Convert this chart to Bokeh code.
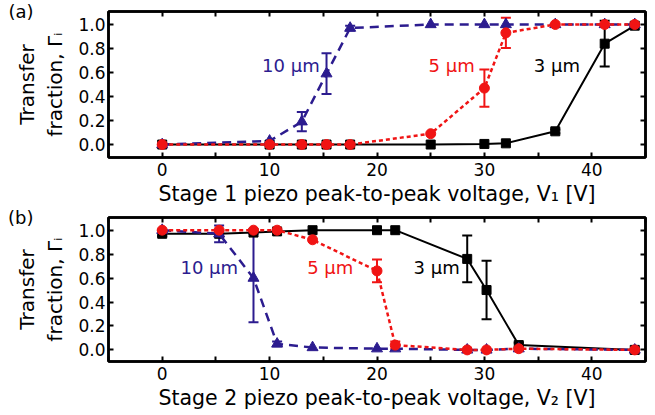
from bokeh.plotting import figure
from bokeh.models import (ColumnDataSource, Whisker, TeeHead, Label, FixedTicker,
                          LinearAxis, NumeralTickFormatter, CustomJSTickFormatter)
from bokeh.layouts import column
from bokeh.embed import file_html
from bokeh.resources import INLINE

# ---------------- data ----------------
v1 = [0, 10, 13, 15.3, 17.5, 25, 30, 32, 36.6, 41.2, 44]
a_10um = [0.0, 0.03, 0.19, 0.59, 0.97, 1.0, 1.0, 1.0, 1.0, 1.0, 1.0]
a_10um_err = [0, 0, 0.08, 0.17, 0.02, 0, 0, 0, 0, 0, 0]
a_5um = [0.0, 0.0, 0.0, 0.0, 0.0, 0.09, 0.47, 0.93, 1.0, 1.0, 1.0]
a_5um_err = [0, 0, 0, 0, 0, 0, 0.155, 0.125, 0, 0, 0]
a_3um = [0.0, 0.0, 0.0, 0.0, 0.0, 0.0, 0.005, 0.01, 0.11, 0.84, 0.99]
a_3um_err = [0, 0, 0, 0, 0, 0, 0, 0, 0.015, 0.19, 0.01]

v2 = [0, 5.3, 8.5, 10.7, 14, 20, 21.7, 28.4, 30.2, 33.2, 44]
b_10um = [1.0, 0.97, 0.6, 0.05, 0.02, 0.01, 0.01, 0.0, 0.0, 0.01, 0.0]
b_10um_err = [0, 0.07, 0.37, 0.02, 0, 0, 0, 0, 0, 0, 0]
b_5um = [1.0, 1.0, 1.0, 1.0, 0.92, 0.66, 0.04, 0.0, 0.0, 0.01, 0.0]
b_5um_err = [0, 0, 0, 0, 0, 0.095, 0.03, 0, 0, 0, 0]
b_3um = [0.97, 0.97, 0.98, 0.99, 1.0, 1.0, 1.0, 0.76, 0.5, 0.04, 0.0]
b_3um_err = [0.02, 0, 0, 0, 0, 0, 0, 0.195, 0.245, 0.02, 0]

x_ticks = [0, 10, 20, 30, 40]
x_minor = [-5, 5, 15, 25, 35, 45]
y_ticks = [0.0, 0.2, 0.4, 0.6, 0.8, 1.0]

series_names = ["10 μm", "5 μm", "3 μm"]
y_title = "Transfer\nfraction, Γᵢ"

NAVY = "#2C1C8F"
RED = "#F01414"
BLACK = "#000000"
FONT = "DejaVu Sans"

STYLE = {
    "10 μm": dict(color=NAVY, dash="9 6", marker="triangle", size=11, lw=2.5),
    "5 μm": dict(color=RED, dash="4 3", marker="circle", size=10, lw=2.5),
    "3 μm": dict(color=BLACK, dash="solid", marker="square", size=9, lw=2.0),
}


def style_axis(ax, labels=True):
    ax.axis_line_width = 2.5
    ax.axis_line_color = "black"
    ax.major_tick_in = 5
    ax.major_tick_out = 0
    ax.minor_tick_in = 5
    ax.minor_tick_out = 0
    ax.major_tick_line_width = 2
    ax.minor_tick_line_width = 2
    ax.major_tick_line_color = "black"
    ax.minor_tick_line_color = "black"
    if labels:
        ax.major_label_text_font = FONT
        ax.major_label_text_font_size = "17px"
        ax.major_label_text_color = "black"
    else:
        ax.formatter = CustomJSTickFormatter(code="return ''")
        ax.major_label_text_font_size = "6px"
        ax.major_label_standoff = 0


def make_panel(xs, data, yr, height, border_top, border_bottom, letter, x_title,
               text_pos):
    p = figure(width=655, height=height, x_range=(-5, 45), y_range=yr,
               output_backend="svg", toolbar_location=None, title=None,
               min_border_left=108, min_border_right=10,
               min_border_top=border_top, min_border_bottom=border_bottom)
    p.xgrid.visible = False
    p.ygrid.visible = False
    p.outline_line_color = "black"
    p.outline_line_width = 2.5
    p.background_fill_color = "white"
    p.border_fill_color = "white"

    xb = p.xaxis[0]
    yl = p.yaxis[0]
    xb.ticker = FixedTicker(ticks=x_ticks, minor_ticks=x_minor)
    yl.ticker = FixedTicker(ticks=y_ticks, minor_ticks=[])
    yl.formatter = NumeralTickFormatter(format="0.0")
    style_axis(xb)
    style_axis(yl)
    xb.major_label_standoff = 5
    yl.major_label_standoff = 3

    # axis titles
    xb.axis_label = x_title
    xb.axis_label_text_font = FONT
    xb.axis_label_text_font_size = "20.5px"
    xb.axis_label_text_font_style = "normal"
    xb.axis_label_text_color = "black"
    xb.axis_label_standoff = 3
    yl.axis_label = y_title
    yl.axis_label_text_font = FONT
    yl.axis_label_text_font_size = "20px"
    yl.axis_label_text_font_style = "normal"
    yl.axis_label_text_color = "black"
    yl.axis_label_standoff = 8

    # ticks on the right and top edges of the frame
    ax_r = LinearAxis(ticker=FixedTicker(ticks=y_ticks, minor_ticks=[]))
    style_axis(ax_r, labels=False)
    p.add_layout(ax_r, "right")
    ax_t = LinearAxis(ticker=FixedTicker(ticks=x_ticks, minor_ticks=x_minor))
    style_axis(ax_t, labels=False)
    p.add_layout(ax_t, "above")

    # outer left "axis" that only carries the panel letter
    ax_l = LinearAxis(ticker=FixedTicker(ticks=[], minor_ticks=[]))
    ax_l.axis_line_color = None
    ax_l.major_tick_line_color = None
    ax_l.minor_tick_line_color = None
    ax_l.formatter = CustomJSTickFormatter(code="return ''")
    ax_l.major_label_text_font_size = "1px"
    ax_l.major_label_standoff = 0
    ax_l.axis_label = letter
    ax_l.axis_label_orientation = "horizontal"
    ax_l.axis_label_text_font = FONT
    ax_l.axis_label_text_font_size = "18px"
    ax_l.axis_label_text_font_style = "normal"
    ax_l.axis_label_text_color = "black"
    ax_l.axis_label_standoff = -22
    try:
        ax_l.axis_label_align = "end"
    except Exception:
        pass
    p.add_layout(ax_l, "left")

    for name in ["3 μm", "10 μm", "5 μm"]:
        ys, errs = data[name]
        st = STYLE[name]
        p.line(xs, ys, line_color=st["color"], line_width=st["lw"],
               line_dash=st["dash"])
        bx = [x for x, e in zip(xs, errs) if e > 0]
        up = [y + e for y, e in zip(ys, errs) if e > 0]
        lo = [y - e for y, e in zip(ys, errs) if e > 0]
        src = ColumnDataSource(data=dict(base=bx, upper=up, lower=lo))
        w = Whisker(source=src, base="base", upper="upper", lower="lower",
                    line_color=st["color"], line_width=2,
                    upper_head=TeeHead(size=10, line_color=st["color"], line_width=2),
                    lower_head=TeeHead(size=10, line_color=st["color"], line_width=2))
        p.add_layout(w)
        p.scatter(xs, ys, marker=st["marker"], size=st["size"],
                  fill_color=st["color"], line_color=st["color"])

    for name in series_names:
        tx, ty = text_pos[name]
        p.add_layout(Label(x=tx, y=ty, text=name, text_font=FONT,
                           text_font_size="18px", text_color=STYLE[name]["color"],
                           text_align="left", text_baseline="middle"))
    return p


pa = make_panel(v1, {"10 μm": (a_10um, a_10um_err), "5 μm": (a_5um, a_5um_err),
                     "3 μm": (a_3um, a_3um_err)},
                (-0.108, 1.108), 209, 11, 52, "(a)",
                "Stage 1 piezo peak-to-peak voltage, V₁ [V]",
                {"10 μm": (9.3, 0.66), "5 μm": (24.8, 0.66), "3 μm": (34.6, 0.66)})
pb = make_panel(v2, {"10 μm": (b_10um, b_10um_err), "5 μm": (b_5um, b_5um_err),
                     "3 μm": (b_3um, b_3um_err)},
                (-0.097, 1.106), 206, 8, 54, "(b)",
                "Stage 2 piezo peak-to-peak voltage, V₂ [V]",
                {"10 μm": (1.7, 0.69), "5 μm": (13.5, 0.69), "3 μm": (23.4, 0.69)})

layout = column(pa, pb, spacing=0)
open("out.html", "w").write(file_html(layout, INLINE))
